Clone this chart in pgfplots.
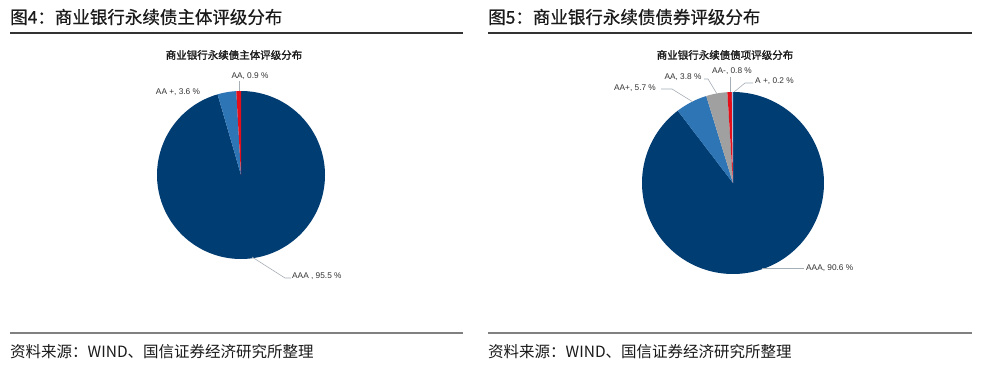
\documentclass[border=0pt]{standalone}
\usepackage{fontspec}
\usepackage{pgfplots}
\pgfplotsset{compat=1.18}
\usepgfplotslibrary{polar}
\setmainfont{Liberation Sans}
\newfontfamily\cjk{Noto Sans CJK SC}
\newfontfamily\cjkh[FakeBold=0.6]{Noto Sans CJK SC}
\newfontfamily\cjkb[FakeBold=1.6]{Noto Sans CJK SC}
\definecolor{dblue}{HTML}{003D73}
\definecolor{mblue}{HTML}{2E75B6}
\definecolor{pred}{HTML}{E3101B}
\definecolor{pgray}{HTML}{A0A0A0}
\definecolor{lblue}{HTML}{9DC3E6}
\definecolor{lead}{HTML}{A6AEB6}
\definecolor{txt}{HTML}{1A1A1A}
\begin{document}
\begin{tikzpicture}[x=1pt,y=1pt]
\path[use as bounding box, fill=white] (0,0) rectangle (983,368);
% headlines
\node[anchor=west, inner sep=0, text=txt, font=\cjkh\fontsize{17.5}{19}\selectfont] at (10,351) {图4：商业银行永续债主体评级分布};
\node[anchor=west, inner sep=0, text=txt, font=\cjkh\fontsize{17.5}{19}\selectfont] at (488,351) {图5：商业银行永续债债券评级分布};
\draw[line width=1.2pt, color=black!80] (10,335) -- (463,335);
\draw[line width=1.2pt, color=black!80] (488,335) -- (972,335);
\draw[line width=1.5pt, color=black!50] (10,35) -- (463,35);
\draw[line width=1.5pt, color=black!50] (488,35) -- (972,35);
\node[anchor=west, inner sep=0, text=txt, font=\cjk\fontsize{15.5}{17}\selectfont] at (10,16) {资料来源：WIND、国信证券经济研究所整理};
\node[anchor=west, inner sep=0, text=txt, font=\cjk\fontsize{15.5}{17}\selectfont] at (488,16) {资料来源：WIND、国信证券经济研究所整理};
% inner titles
\node[inner sep=0, text=txt, font=\cjkb\fontsize{10.5}{12}\selectfont] at (234,313) {商业银行永续债主体评级分布};
\node[inner sep=0, text=txt, font=\cjkb\fontsize{10.5}{12}\selectfont] at (725,313) {商业银行永续债债项评级分布};
% pie 1: AAA 95.5, AA+ 3.6, AA 0.9 (clockwise from top)
\begin{polaraxis}[at={(241pt,193pt)}, anchor=center, hide axis, scale only axis,
  width=168pt, height=168pt, ymin=0, ymax=1, clip=false]
\addplot[draw=none, fill=dblue, domain=-253.8:90, samples=150] {1} -- (axis cs:0,0) -- cycle;
\addplot[draw=none, fill=mblue, domain=-266.76:-253.8, samples=10] {1} -- (axis cs:0,0) -- cycle;
\addplot[draw=none, fill=pred, domain=-270:-266.76, samples=5] {1} -- (axis cs:0,0) -- cycle;
\end{polaraxis}
% pie 2: AAA 90.6, AA+ 5.7, AA 3.8, AA- 0.8, A+ 0.2 (normalised by 101.1)
\begin{polaraxis}[at={(733pt,185pt)}, anchor=center, hide axis, scale only axis,
  width=182pt, height=182pt, ymin=0, ymax=1, clip=false]
\addplot[draw=none, fill=dblue, domain=-232.61:90, samples=150] {1} -- (axis cs:0,0) -- cycle;
\addplot[draw=none, fill=mblue, domain=-252.91:-232.61, samples=12] {1} -- (axis cs:0,0) -- cycle;
\addplot[draw=none, fill=pgray, domain=-266.44:-252.91, samples=10] {1} -- (axis cs:0,0) -- cycle;
\addplot[draw=none, fill=pred, domain=-269.29:-266.44, samples=5] {1} -- (axis cs:0,0) -- cycle;
\addplot[draw=none, fill=lblue, domain=-270:-269.29, samples=3] {1} -- (axis cs:0,0) -- cycle;
\end{polaraxis}
% labels
\begin{scope}[font=\fontsize{8.3}{9}\selectfont, text=black!80]
\draw[lead, line width=0.6pt] (239.5,277) -- (239.5,287);
\node[inner sep=0] at (250,292) {AA, 0.9 \%};
\node[inner sep=0] at (178,276) {AA +, 3.6 \%};
\draw[lead, line width=0.6pt] (252,111) -- (285,90) -- (291,90);
\node[inner sep=0, anchor=west] at (292,92) {AAA , 95.5 \%};
\draw[lead, line width=0.6pt] (730.5,276) -- (730.5,291);
\node[inner sep=0] at (732,297) {AA-, 0.8 \%};
\draw[lead, line width=0.6pt] (734,276) -- (745,285) -- (753,285);
\node[inner sep=0, anchor=west] at (755,287) {A +, 0.2 \%};
\draw[lead, line width=0.6pt] (704,289) -- (708,289) -- (717,274);
\node[inner sep=0] at (683,291) {AA, 3.8 \%};
\draw[lead, line width=0.6pt] (661,279) -- (672,279) -- (693,266);
\node[inner sep=0] at (635,280) {AA+, 5.7 \%};
\draw[lead, line width=0.6pt] (762,100) -- (804,100);
\node[inner sep=0, anchor=west] at (806,100) {AAA, 90.6 \%};
\end{scope}
\end{tikzpicture}
\end{document}
